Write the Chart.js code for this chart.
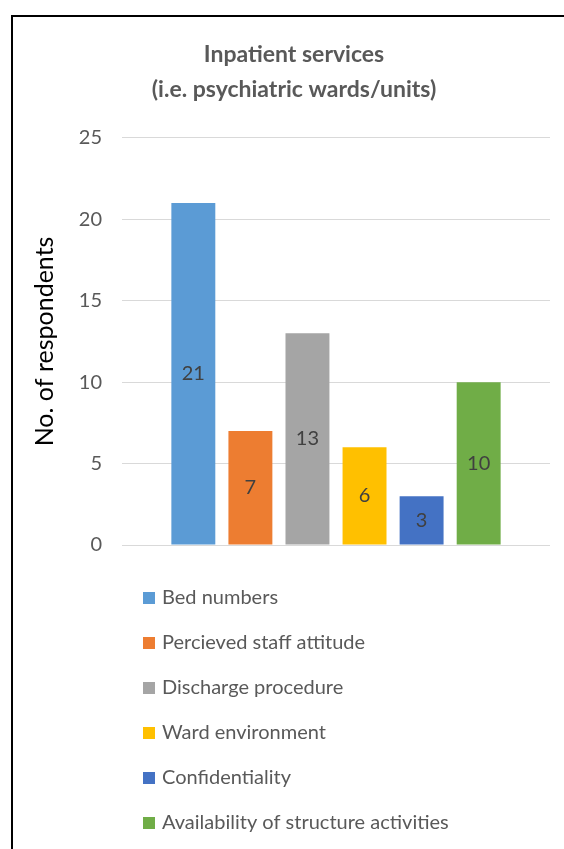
<!DOCTYPE html>
<html>
<head>
<meta charset="utf-8">
<script src="https://cdn.jsdelivr.net/npm/chart.js@4"></script>
<style>
  html, body { margin: 0; padding: 0; background: #fff; }
  #frame {
    position: absolute;
    left: 11px;
    top: 15px;
    width: 553px;
    height: 834px;
    border-left: 2px solid #000;
    border-top: 2px solid #000;
  }
</style>
</head>
<body>
<div id="frame"><canvas id="myChart" width="551" height="832"></canvas></div>
<script>
const categories = [
  "Bed numbers",
  "Percieved staff attitude",
  "Discharge procedure",
  "Ward environment",
  "Confidentiality",
  "Availability of structure activities",
];
const values = [21, 7, 13, 6, 3, 10];
const colors = ["#5B9BD5", "#ED7D31", "#A5A5A5", "#FFC000", "#4472C4", "#70AD47"];
const yMin = 0;
const yMax = 25;
const yStep = 5;

const FONT = "Lato, 'Noto Sans', sans-serif";

// value printed in the middle of each bar
const barValues = {
  id: "barValues",
  afterDatasetsDraw(chart) {
    const ctx = chart.ctx;
    ctx.save();
    ctx.font = "20px " + FONT;
    ctx.fillStyle = "#404040";
    ctx.textAlign = "center";
    ctx.textBaseline = "middle";
    chart.data.datasets.forEach((ds, i) => {
      chart.getDatasetMeta(i).data.forEach((bar, j) => {
        ctx.fillText(ds.data[j], bar.x, (bar.y + bar.base) / 2);
      });
    });
    ctx.restore();
  },
};

// one legend entry per row under the plot
const stackedLegend = {
  id: "stackedLegend",
  afterDraw(chart) {
    const ctx = chart.ctx;
    const x = 130;
    let y = chart.chartArea.bottom + 53;
    ctx.save();
    ctx.font = "20px " + FONT;
    ctx.textBaseline = "middle";
    ctx.textAlign = "left";
    chart.data.datasets.forEach((ds) => {
      ctx.fillStyle = ds.backgroundColor;
      ctx.fillRect(x, y - 6, 12, 12);
      ctx.fillStyle = "#595959";
      ctx.fillText(ds.label, x + 19, y);
      y += 45;
    });
    ctx.restore();
  },
};

new Chart(document.getElementById("myChart"), {
  type: "bar",
  data: {
    labels: [""],
    datasets: categories.map((name, i) => ({
      label: name,
      data: [values[i]],
      backgroundColor: colors[i],
    })),
  },
  options: {
    responsive: false,
    animation: false,
    layout: { padding: { left: 25, right: 14, top: 0, bottom: 304 } },
    datasets: { bar: { categoryPercentage: 0.8, barPercentage: 0.77 } },
    plugins: {
      legend: { display: false },
      tooltip: { enabled: false },
      title: {
        display: true,
        text: ["Inpatient services", "(i.e. psychiatric wards/units)"],
        color: "#595959",
        font: { family: FONT, size: 23, weight: "bold", lineHeight: 1.52 },
        padding: { top: 20, bottom: 31 },
      },
    },
    scales: {
      x: { display: false },
      y: {
        min: yMin,
        max: yMax,
        border: { display: false },
        grid: { color: "#D9D9D9", drawTicks: false },
        ticks: {
          stepSize: yStep,
          padding: 20,
          color: "#595959",
          font: { family: FONT, size: 20 },
        },
        title: {
          display: true,
          text: "No. of respondents",
          color: "#000",
          font: { family: FONT, size: 25, lineHeight: 1 },
          padding: { top: -6, bottom: 0 },
        },
        afterFit(scale) {
          scale.width = 84;
        },
      },
    },
  },
  plugins: [barValues, stackedLegend],
});
</script>
</body>
</html>
